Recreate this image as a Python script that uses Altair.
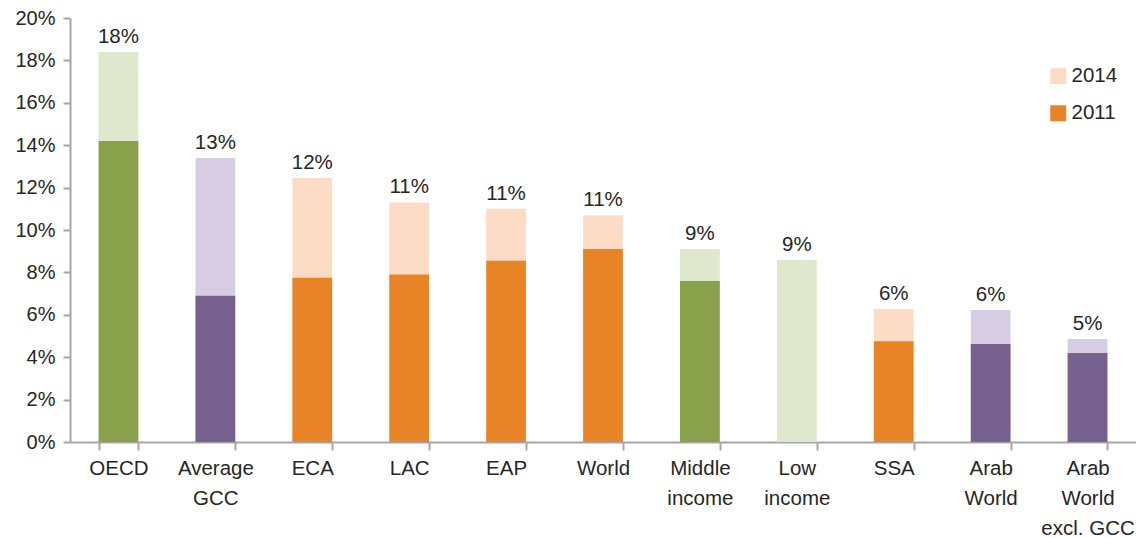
import altair as alt
import pandas as pd

categories = ["OECD", "Average\nGCC", "ECA", "LAC", "EAP", "World",
              "Middle\nincome", "Low\nincome", "SSA", "Arab\nWorld", "Arab\nWorld\nexcl. GCC"]
groups = ["green", "purple", "orange", "orange", "orange", "orange",
          "green", "green", "orange", "purple", "purple"]
v2014 = [18.4, 13.4, 12.45, 11.3, 11.0, 10.7, 9.1, 8.6, 6.27, 6.23, 4.86]
v2011 = [14.2, 6.9, 7.75, 7.9, 8.55, 9.1, 7.6, None, 4.75, 4.62, 4.2]
labels = ["18%", "13%", "12%", "11%", "11%", "11%", "9%", "9%", "6%", "6%", "5%"]

rows = []
for c, g, a, b, l in zip(categories, groups, v2014, v2011, labels):
    rows.append({"cat": c, "year": "2014", "key": g + " 2014", "value": a, "label": l})
    rows.append({"cat": c, "year": "2011", "key": g + " 2011", "value": b, "label": ""})
df = pd.DataFrame(rows)

FONT = "Liberation Sans"
keys = ["green 2014", "green 2011", "purple 2014", "purple 2011", "orange 2014", "orange 2011"]
cols = ["#DFE8CC", "#8AA14B", "#D6CDE3", "#77618E", "#FCDCC4", "#E98426"]

x = alt.X("cat:N", sort=categories, title=None,
          scale=alt.Scale(paddingInner=0.59, paddingOuter=0.295),
          axis=alt.Axis(labelAngle=0, labelExpr="split(datum.label, '\\n')",
                        labelFontSize=20.5, labelFont=FONT, labelColor="#262626",
                        labelLineHeight=30, labelPadding=8, tickBand="extent",
                        tickSize=8, tickColor="#A6A6A6", tickWidth=2,
                        domainColor="#A6A6A6", domainWidth=2, labelBaseline="top"))
y = alt.Y("value:Q", title=None,
          scale=alt.Scale(domain=[0, 20], nice=False),
          axis=alt.Axis(values=list(range(0, 21, 2)), labelExpr="datum.value + '%'",
                        labelFontSize=20, labelFont=FONT, labelColor="#262626",
                        tickSize=7, tickColor="#A6A6A6", tickWidth=2, labelPadding=8,
                        domainColor="#A6A6A6", domainWidth=2, grid=False))
color = alt.Color("key:N", scale=alt.Scale(domain=keys, range=cols),
                  legend=alt.Legend(values=["orange 2014", "orange 2011"], title=None,
                                    labelExpr="slice(datum.label, -4)",
                                    orient="none", legendX=978, legendY=48,
                                    symbolType="square", symbolSize=256,
                                    symbolStrokeWidth=0, labelFontSize=20.5,
                                    labelFont=FONT, labelColor="#262626",
                                    rowPadding=16, labelOffset=3, padding=0))

base = alt.Chart(df)
b14 = base.transform_filter(alt.datum.year == "2014").mark_bar().encode(x=x, y=y, color=color)
b11 = base.transform_filter(alt.datum.year == "2011").mark_bar().encode(x=x, y=y, color=color)
txt = base.transform_filter(alt.datum.year == "2014").mark_text(
    baseline="bottom", dy=-5, fontSize=20.5, font=FONT, color="#262626"
).encode(x=x, y=y, text="label:N")

chart = alt.layer(b14, b11, txt).properties(
    width=1066, height=424,
    autosize=alt.AutoSizeParams(type="none"),
    padding={"left": 70, "top": 18, "right": 0, "bottom": 96},
    background="white",
).configure_view(stroke=None)

chart.save("out.html", embed_options={"renderer": "svg", "actions": False})
